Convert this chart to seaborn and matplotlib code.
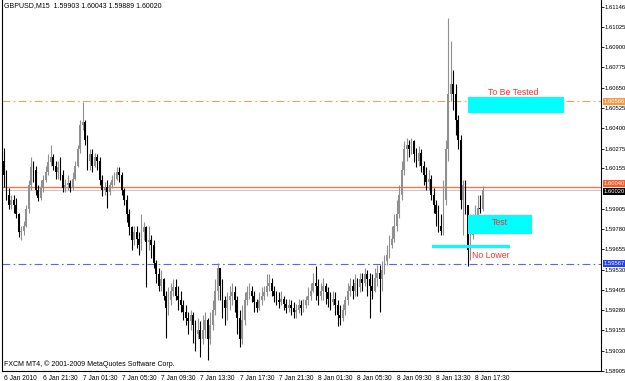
import numpy as np
import matplotlib
matplotlib.use("Agg")
import matplotlib.pyplot as plt
import matplotlib.transforms as mtransforms
from matplotlib.patches import Rectangle
import seaborn as sns

sns.set_style("white")
plt.rcParams['font.family'] = ['Liberation Sans', 'DejaVu Sans']

# ---------------- data (GBPUSD, M15) ----------------
first_open = 1.6020
closes = [
    1.6011, 1.5999, 1.5993, 1.5996, 1.5993, 1.5987, 1.5976, 1.5977, 1.5980, 1.5990,
    1.6005, 1.6016, 1.6014, 1.6002, 1.5997, 1.6003, 1.6008, 1.6013, 1.6019, 1.6022,
    1.6017, 1.6013, 1.6016, 1.6011, 1.6003, 1.6005, 1.6006, 1.6003, 1.6009, 1.6017,
    1.6027, 1.6042, 1.6044, 1.6033, 1.6020, 1.6024, 1.6017, 1.6022, 1.6020, 1.6008,
    1.6002, 1.6004, 1.6001, 1.6005, 1.6008, 1.6009, 1.6013, 1.6011, 1.6002, 1.5996,
    1.5987, 1.5979, 1.5971, 1.5976, 1.5972, 1.5968, 1.5976, 1.5979, 1.5970, 1.5971,
    1.5968, 1.5957, 1.5950, 1.5943, 1.5947, 1.5937, 1.5929, 1.5934, 1.5940, 1.5942,
    1.5937, 1.5934, 1.5931, 1.5927, 1.5923, 1.5921, 1.5925, 1.5919, 1.5913, 1.5916,
    1.5910, 1.5916, 1.5922, 1.5910, 1.5919, 1.5928, 1.5940, 1.5954, 1.5943, 1.5934,
    1.5929, 1.5934, 1.5937, 1.5939, 1.5934, 1.5923, 1.5910, 1.5922, 1.5934, 1.5939,
    1.5940, 1.5937, 1.5933, 1.5929, 1.5934, 1.5937, 1.5939, 1.5943, 1.5945, 1.5940,
    1.5937, 1.5934, 1.5933, 1.5935, 1.5932, 1.5929, 1.5931, 1.5929, 1.5927, 1.5928,
    1.5931, 1.5929, 1.5931, 1.5934, 1.5937, 1.5940, 1.5945, 1.5943, 1.5937, 1.5940,
    1.5943, 1.5939, 1.5935, 1.5933, 1.5935, 1.5931, 1.5925, 1.5923, 1.5928, 1.5934,
    1.5940, 1.5943, 1.5940, 1.5945, 1.5942, 1.5947, 1.5945, 1.5950, 1.5947, 1.5943,
    1.5940, 1.5948, 1.5951, 1.5947, 1.5953, 1.5958, 1.5962, 1.5968, 1.5972, 1.5980,
    1.5987, 1.5999, 1.6014, 1.6027, 1.6030, 1.6027, 1.6032, 1.6024, 1.6020, 1.6025,
    1.6017, 1.6011, 1.6007, 1.6009, 1.5999, 1.5993, 1.5987, 1.5980, 1.5977, 1.5996,
    1.6027, 1.6061, 1.6067, 1.6061, 1.6045, 1.6033, 1.5996, 1.6005, 1.5993, 1.5965,
    1.5974, 1.5980, 1.5983, 1.5991, 1.5990, 1.6002,
]
highs = [
    1.6028, 1.6014, 1.6003, 1.5999, 1.5999, 1.5997, 1.5988, 1.5980, 1.5983, 1.5993,
    1.6008, 1.6022, 1.6020, 1.6017, 1.6005, 1.6008, 1.6011, 1.6017, 1.6024, 1.6030,
    1.6024, 1.6020, 1.6020, 1.6022, 1.6014, 1.6009, 1.6011, 1.6008, 1.6013, 1.6020,
    1.6030, 1.6045, 1.6056, 1.6045, 1.6036, 1.6027, 1.6027, 1.6025, 1.6024, 1.6022,
    1.6011, 1.6007, 1.6008, 1.6007, 1.6011, 1.6013, 1.6016, 1.6016, 1.6013, 1.6003,
    1.5999, 1.5990, 1.5980, 1.5980, 1.5980, 1.5976, 1.5987, 1.5982, 1.5980, 1.5980,
    1.5974, 1.5971, 1.5959, 1.5954, 1.5953, 1.5948, 1.5940, 1.5942, 1.5945, 1.5947,
    1.5947, 1.5943, 1.5940, 1.5934, 1.5931, 1.5927, 1.5928, 1.5927, 1.5922, 1.5923,
    1.5921, 1.5925, 1.5927, 1.5923, 1.5927, 1.5934, 1.5947, 1.5957, 1.5954, 1.5947,
    1.5937, 1.5939, 1.5943, 1.5945, 1.5943, 1.5937, 1.5928, 1.5931, 1.5939, 1.5943,
    1.5945, 1.5943, 1.5940, 1.5935, 1.5939, 1.5942, 1.5943, 1.5950, 1.5950, 1.5948,
    1.5943, 1.5940, 1.5939, 1.5940, 1.5937, 1.5935, 1.5935, 1.5934, 1.5933, 1.5932,
    1.5935, 1.5934, 1.5935, 1.5937, 1.5942, 1.5945, 1.5951, 1.5955, 1.5947, 1.5945,
    1.5948, 1.5945, 1.5942, 1.5939, 1.5940, 1.5939, 1.5934, 1.5931, 1.5932, 1.5937,
    1.5945, 1.5948, 1.5947, 1.5950, 1.5948, 1.5951, 1.5951, 1.5954, 1.5953, 1.5951,
    1.5950, 1.5954, 1.5956, 1.5956, 1.5958, 1.5962, 1.5968, 1.5974, 1.5980, 1.5987,
    1.5996, 1.6005, 1.6020, 1.6032, 1.6034, 1.6033, 1.6034, 1.6033, 1.6028, 1.6029,
    1.6027, 1.6020, 1.6016, 1.6014, 1.6011, 1.6003, 1.5996, 1.5993, 1.5987, 1.6008,
    1.6033, 1.6108, 1.6094, 1.6076, 1.6067, 1.6048, 1.6036, 1.6008, 1.6008, 1.5993,
    1.5987, 1.5987, 1.5993, 1.5999, 1.5999, 1.60043,
]
lows = [
    1.6004, 1.5996, 1.5990, 1.5990, 1.5988, 1.5985, 1.5973, 1.5971, 1.5974, 1.5979,
    1.5988, 1.6002, 1.6007, 1.5999, 1.5995, 1.5996, 1.6001, 1.6007, 1.6011, 1.6017,
    1.6014, 1.6009, 1.6009, 1.6008, 1.6001, 1.6001, 1.6002, 1.6001, 1.6002, 1.6008,
    1.6016, 1.6025, 1.6039, 1.6030, 1.6014, 1.6014, 1.6013, 1.6016, 1.6014, 1.6005,
    1.5998, 1.5999, 1.5991, 1.5999, 1.6003, 1.6005, 1.6008, 1.6007, 1.5999, 1.5993,
    1.5982, 1.5974, 1.5965, 1.5968, 1.5966, 1.5962, 1.5965, 1.5971, 1.5942, 1.5965,
    1.5960, 1.5954, 1.5945, 1.5940, 1.5940, 1.5934, 1.5911, 1.5925, 1.5931, 1.5937,
    1.5934, 1.5928, 1.5927, 1.5922, 1.5919, 1.5913, 1.5916, 1.5908, 1.5903, 1.5910,
    1.5899, 1.5907, 1.5911, 1.5897, 1.5907, 1.5916, 1.5925, 1.5934, 1.5934, 1.5923,
    1.5919, 1.5922, 1.5928, 1.5931, 1.5927, 1.5913, 1.5905, 1.5907, 1.5919, 1.5931,
    1.5935, 1.5933, 1.5927, 1.5927, 1.5928, 1.5931, 1.5934, 1.5937, 1.5940, 1.5937,
    1.5933, 1.5931, 1.5929, 1.5931, 1.5928, 1.5926, 1.5927, 1.5925, 1.5923, 1.5923,
    1.5926, 1.5925, 1.5927, 1.5929, 1.5931, 1.5934, 1.5939, 1.5934, 1.5931, 1.5934,
    1.5934, 1.5932, 1.5930, 1.5928, 1.5931, 1.5925, 1.5918, 1.5919, 1.5921, 1.5925,
    1.5931, 1.5937, 1.5935, 1.5937, 1.5937, 1.5939, 1.5940, 1.5943, 1.5937, 1.5923,
    1.5935, 1.5939, 1.5943, 1.5927, 1.5940, 1.5950, 1.5956, 1.5960, 1.5966, 1.5970,
    1.5977, 1.5985, 1.5996, 1.6011, 1.6020, 1.6022, 1.6024, 1.6019, 1.6016, 1.6017,
    1.6013, 1.6005, 1.6002, 1.6002, 1.5996, 1.5988, 1.5980, 1.5976, 1.5974, 1.5974,
    1.5993, 1.6020, 1.6057, 1.6051, 1.6036, 1.6027, 1.5990, 1.5974, 1.5987, 1.5955,
    1.5959, 1.5972, 1.5979, 1.5987, 1.5988, 1.59889,
]

x_tick_bars = [0, 16, 32, 48, 64, 80, 96, 112, 128, 144, 160, 176, 192]
x_tick_labels = ["6 Jan 2010", "6 Jan 21:30", "7 Jan 01:30", "7 Jan 05:30", "7 Jan 09:30",
                 "7 Jan 13:30", "7 Jan 17:30", "7 Jan 21:30", "8 Jan 01:30", "8 Jan 05:30",
                 "8 Jan 09:30", "8 Jan 13:30", "8 Jan 17:30"]
y_ticks = [1.61146, 1.61025, 1.60900, 1.60775, 1.60650, 1.60525, 1.60400, 1.60275, 1.60155,
           1.59905, 1.59780, 1.59655, 1.59530, 1.59405, 1.59280, 1.59155, 1.59030, 1.58905]

bid_price = 1.60020
orange_line = 1.60040
resistance_line = 1.60566
support_line = 1.59567

# zones: (bar start, bar end, price low, price high)
zone_tested = (189.0, 228.1, 1.60494, 1.60592)
zone_test = (189.0, 215.1, 1.59749, 1.59866)
zone_nolower = (174.4, 206.1, 1.59662, 1.59681)
notes = [("To Be Tested", 197.2, 1.60623), ("Test", 198.8, 1.59822), ("No Lower", 190.6, 1.59619)]

header = "GBPUSD,M15  1.59903 1.60043 1.59889 1.60020"
copyright_txt = "FXCM MT4, \u00a9 2001-2009 MetaQuotes Software Corp."

# ---------------- figure ----------------
W, H = 625, 381
fig = plt.figure(figsize=(W / 100, H / 100), dpi=100)
fig.patch.set_facecolor("white")
ax = fig.add_axes([2 / W, 10 / H, 599 / W, 371 / H])
ax.set_facecolor("white")

closes_a = np.array(closes)
opens_a = np.concatenate([[first_open], closes_a[:-1]])
highs_a = np.maximum.reduce([np.array(highs), opens_a, closes_a])
lows_a = np.minimum.reduce([np.array(lows), opens_a, closes_a])
idx = np.arange(len(closes_a))
up = closes_a >= opens_a
bull_c = "#909090"
bear_c = "#000000"
cols = np.where(up, bull_c, bear_c)

ax.vlines(idx, lows_a, highs_a, colors=cols, lw=0.8, zorder=3)
body_lo = np.minimum(opens_a, closes_a)
body_h = np.maximum(np.abs(closes_a - opens_a), 0.00004)
ax.bar(idx, body_h, bottom=body_lo, width=0.72, color=cols, linewidth=0, zorder=3)

# horizontal lines
ax.axhline(bid_price, color="#c8c8c8", lw=0.8, zorder=2)
ax.axhline(orange_line, color="#f07850", lw=1.0, zorder=2)
dd = (0, (7, 3, 1.5, 3))
ax.axhline(resistance_line, color="#f5a050", lw=0.8, ls=dd, zorder=2)
ax.axhline(support_line, color="#6060ff", lw=0.8, ls=dd, zorder=2)

# zones
for (b0, b1, p0, p1) in [zone_tested, zone_test, zone_nolower]:
    ax.add_patch(Rectangle((b0, p0), b1 - b0, p1 - p0, facecolor="#00ffff",
                           edgecolor="none", zorder=4))
for txt, bx, py in notes:
    ax.text(bx, py, txt, color="#ff3030", fontsize=6.3, ha="left", va="center", zorder=5)

ax.set_xlim(-0.8, 243.2)
ax.set_ylim(1.58905, 1.6119)

# axes styling
ax.spines["top"].set_visible(False)
for s in ["left", "bottom", "right"]:
    ax.spines[s].set_color("#000000")
    ax.spines[s].set_linewidth(0.8)

ax.yaxis.tick_right()
ax.set_yticks(y_ticks)
ax.set_yticklabels([f"{v:.5f}" for v in y_ticks])
ax.tick_params(axis="y", direction="out", length=2, width=0.6, pad=0.8,
               labelsize=4.2, colors="#000000")
ax.set_xticks(x_tick_bars)
ax.set_xticklabels(x_tick_labels, ha="left")
ax.tick_params(axis="x", direction="out", length=2, width=0.6, pad=0.6,
               labelsize=4.8, colors="#000000")

# right-side price tags
trans = mtransforms.blended_transform_factory(ax.transAxes, ax.transData)
tags = [(resistance_line, "1.60566", "#f59a40", 0),
        (support_line, "1.59567", "#2040ff", 0),
        (orange_line, "1.60040", "#ff5a28", 2.5),
        (bid_price, "1.60020", "#000000", -1)]
for price, lab, c, dy in tags:
    t = trans + mtransforms.ScaledTranslation(0, dy / 72, fig.dpi_scale_trans)
    ax.text(1.004, price, lab, transform=t, fontsize=4.2, color="white",
            ha="left", va="center", zorder=10, clip_on=False,
            bbox=dict(boxstyle="square,pad=0.15", fc=c, ec="none"))

ax.text(0.004, 0.995, header, transform=ax.transAxes, fontsize=5.0,
        ha="left", va="top", color="#000000")
ax.text(0.004, 0.008, copyright_txt, transform=ax.transAxes, fontsize=5.0,
        ha="left", va="bottom", color="#000000")

fig.savefig("out.png", dpi=100, facecolor="white")
